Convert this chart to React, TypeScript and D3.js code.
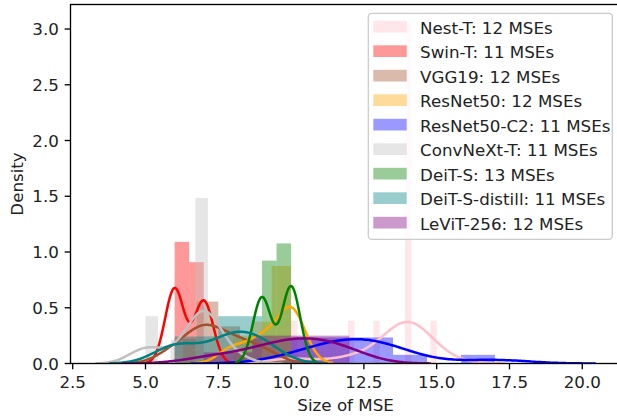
import React from "react";
import * as d3 from "d3";

// MSE sizes collected per model (one entry per MSE)
const nestT = [10, 12, 13, 14, 14, 14, 14, 14, 14, 14, 14, 15];
const swinT = [6, 6, 6, 6, 6, 6, 7, 7, 7, 7, 7];
const vgg19 = [6, 6, 7, 7, 7, 7, 7, 8, 8, 8, 9, 9];
const resnet50 = [8, 8, 9, 9, 9, 10, 10, 10, 10, 10, 10, 10];
const resnet50C2 = [10, 11, 11, 12, 12, 12, 13, 13, 13, 14, 17];
const convnextT = [5, 5, 6, 7, 7, 7, 7, 7, 7, 7, 8];
const deitS = [9, 9, 9, 9, 9, 9, 10, 10, 10, 10, 10, 10, 10];
const deitSDistill = [6, 6, 6, 7, 8, 8, 8, 8, 9, 9, 9];
const levit256 = [7, 8, 9, 9, 10, 10, 10, 11, 11, 11, 12, 12];

const modelNames = [
  "Nest-T",
  "Swin-T",
  "VGG19",
  "ResNet50",
  "ResNet50-C2",
  "ConvNeXt-T",
  "DeiT-S",
  "DeiT-S-distill",
  "LeViT-256",
];
const modelSamples = [nestT, swinT, vgg19, resnet50, resnet50C2, convnextT, deitS, deitSDistill, levit256];
const modelColors = ["pink", "red", "sienna", "orange", "blue", "silver", "green", "teal", "purple"];

const xTicks = [2.5, 5.0, 7.5, 10.0, 12.5, 15.0, 17.5, 20.0];
const yTicks = [0.0, 0.5, 1.0, 1.5, 2.0, 2.5, 3.0];

const W = 617;
const H = 416;
// axes box in pixels (the right spine sits just past the canvas edge)
const PL = 70.5;
const PR = 620.7;
const PT = 4.5;
const PB = 363.5;
const FONT = "DejaVu Sans, sans-serif";
const FS = 16.7;
const TEXT = "#222";
const TICK = 5.83;
const SPINE = 1.33;

// linear-interpolated percentile (numpy default)
function percentile(sorted: number[], p: number) {
  const idx = (p / 100) * (sorted.length - 1);
  const lo = Math.floor(idx);
  const hi = Math.ceil(idx);
  return sorted[lo] + (idx - lo) * (sorted[hi] - sorted[lo]);
}

// Freedman-Diaconis bin count
function fdBins(values: number[]) {
  const s = [...values].sort((a, b) => a - b);
  const iqr = percentile(s, 75) - percentile(s, 25);
  const h = (2 * iqr) / Math.pow(s.length, 1 / 3);
  if (h === 0) return Math.floor(Math.sqrt(s.length));
  return Math.ceil((s[s.length - 1] - s[0]) / h);
}

function histogram(values: number[]) {
  const n = values.length;
  const [lo, hi] = d3.extent(values) as [number, number];
  const bins = Math.min(fdBins(values), 50);
  const step = (hi - lo) / bins;
  const edges = d3.range(bins + 1).map((i) => lo + i * step);
  const binner = d3
    .bin<number, number>()
    .domain([lo, hi])
    .thresholds(edges.slice(1, -1));
  return binner(values).map((b, i) => ({
    x0: edges[i],
    x1: edges[i + 1],
    density: b.length / (n * step),
  }));
}

// Gaussian KDE with Scott's bandwidth, evaluated over cut=3 support
function kde(values: number[], gridsize = 200, cut = 3) {
  const n = values.length;
  const sd = d3.deviation(values) as number;
  const bw = sd * Math.pow(n, -1 / 5);
  const [lo, hi] = d3.extent(values) as [number, number];
  const g0 = lo - cut * bw;
  const g1 = hi + cut * bw;
  const norm = 1 / (n * bw * Math.sqrt(2 * Math.PI));
  return d3.range(gridsize).map((i) => {
    const x = g0 + ((g1 - g0) * i) / (gridsize - 1);
    const y = norm * d3.sum(values, (v) => Math.exp(-0.5 * ((x - v) / bw) ** 2));
    return [x, y] as [number, number];
  });
}

const series = modelNames.map((name, i) => ({
  name,
  color: modelColors[i],
  count: modelSamples[i].length,
  hist: histogram(modelSamples[i]),
  curve: kde(modelSamples[i]),
}));

export default function App() {
  const x0 = d3.min(series, (s) => Math.min(s.hist[0].x0, s.curve[0][0])) as number;
  const x1 = d3.max(series, (s) => Math.max(s.hist[s.hist.length - 1].x1, s.curve[s.curve.length - 1][0])) as number;
  const xPad = (x1 - x0) * 0.05;
  const yMax = d3.max(series, (s) => Math.max(d3.max(s.hist, (b) => b.density) as number, d3.max(s.curve, (p) => p[1]) as number)) as number;

  const x = d3.scaleLinear().domain([x0 - xPad, x1 + xPad]).range([PL, PR]);
  const y = d3.scaleLinear().domain([0, yMax * 1.05]).range([PB, PT]);
  const line = d3
    .line<[number, number]>()
    .x((d) => x(d[0]))
    .y((d) => y(d[1]));

  const legX = 368.3;
  const legY = 13.3;
  const legW = 244;
  const rowH = 24.5;
  const legH = 226;

  return (
    <svg width={W} height={H} style={{ position: "absolute", left: 0, top: 0, background: "white" }} fontFamily={FONT}>
      <defs>
        <clipPath id="plot-area">
          <rect x={PL} y={PT} width={PR - PL} height={PB - PT} />
        </clipPath>
      </defs>
      <g clipPath="url(#plot-area)">
        {series.map((s) =>
          s.hist.map((b, j) =>
            b.density > 0 ? (
              <rect
                key={s.name + j}
                x={x(b.x0)}
                y={y(b.density)}
                width={x(b.x1) - x(b.x0)}
                height={y(0) - y(b.density)}
                fill={s.color}
                fillOpacity={0.4}
              />
            ) : null
          )
        )}
        {series.map((s) => (
          <path key={s.name} d={line(s.curve) || ""} fill="none" stroke={s.color} strokeWidth={2.5} strokeLinejoin="round" />
        ))}
      </g>

      {/* axes frame */}
      <rect x={PL} y={PT} width={PR - PL} height={PB - PT} fill="none" stroke="black" strokeWidth={SPINE} />

      {xTicks.map((t) => (
        <g key={"x" + t}>
          <line x1={x(t)} x2={x(t)} y1={PB} y2={PB + TICK} stroke="black" strokeWidth={SPINE} />
          <text x={x(t)} y={PB + 2 * TICK + 12.4} textAnchor="middle" fontSize={FS} fill={TEXT}>
            {t.toFixed(1)}
          </text>
        </g>
      ))}
      {yTicks.map((t) => (
        <g key={"y" + t}>
          <line x1={PL - TICK} x2={PL} y1={y(t)} y2={y(t)} stroke="black" strokeWidth={SPINE} />
          <text x={PL - 2 * TICK} y={y(t) + 6.1} textAnchor="end" fontSize={FS} fill={TEXT}>
            {t.toFixed(1)}
          </text>
        </g>
      ))}

      <text x={(PL + PR) / 2} y={410.5} textAnchor="middle" fontSize={FS} fill={TEXT}>
        Size of MSE
      </text>
      <text transform={`translate(23, ${(PT + PB) / 2}) rotate(-90)`} textAnchor="middle" fontSize={FS} fill={TEXT}>
        Density
      </text>

      {/* legend */}
      <rect x={legX} y={legY} width={legW} height={legH} rx={3.5} fill="white" fillOpacity={0.8} stroke="#cccccc" strokeWidth={1.33} />
      {series.map((s, i) => {
        const top = legY + 6.7 + i * rowH;
        return (
          <g key={"leg" + s.name}>
            <rect x={373.3} y={top + 0.8} width={33.4} height={11.7} fill={s.color} fillOpacity={0.4} />
            <text x={420.1} y={top + 13.8} fontSize={FS} fill={TEXT}>
              {`${s.name}: ${s.count} MSEs`}
            </text>
          </g>
        );
      })}
    </svg>
  );
}
